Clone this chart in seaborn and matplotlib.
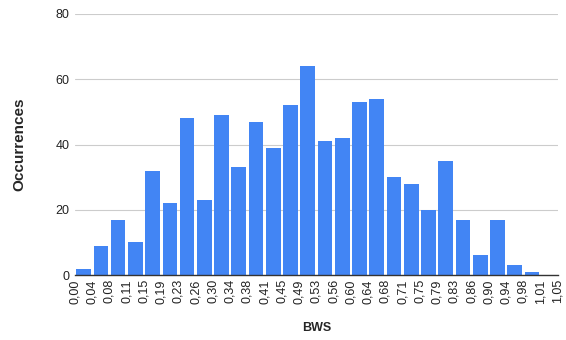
import numpy as np
import pandas as pd
import matplotlib
matplotlib.use("Agg")
import matplotlib.pyplot as plt
import seaborn as sns

# histogram counts per bin (28 bins from 0.00 to 1.05)
counts = [2, 9, 17, 10, 32, 22, 48, 23, 49, 33, 47, 39, 52, 64,
          41, 42, 53, 54, 30, 28, 20, 35, 17, 6, 17, 3, 1, 0]
bws_min = 0.0
bws_max = 1.05
tick_labels = ["0,00", "0,04", "0,08", "0,11", "0,15", "0,19", "0,23", "0,26",
               "0,30", "0,34", "0,38", "0,41", "0,45", "0,49", "0,53", "0,56",
               "0,60", "0,64", "0,68", "0,71", "0,75", "0,79", "0,83", "0,86",
               "0,90", "0,94", "0,98", "1,01", "1,05"]
y_ticks = [0, 20, 40, 60, 80]

edges = np.linspace(bws_min, bws_max, len(counts) + 1)
centers = (edges[:-1] + edges[1:]) / 2
df = pd.DataFrame({"BWS": centers, "n": counts})

sns.set_style("white")
plt.rcParams["font.family"] = ["Liberation Sans", "DejaVu Sans"]

fig = plt.figure(figsize=(5.66, 3.40), dpi=100)
ax = fig.add_axes([0.1325, 0.191, 0.853, 0.768])

sns.histplot(data=df, x="BWS", weights="n", bins=list(edges), shrink=0.85,
             color="#4285F4", alpha=1, edgecolor="none", ax=ax, zorder=3)

ax.set_xlim(bws_min, bws_max)
ax.set_ylim(0, 80)
ax.set_yticks(y_ticks)
ax.set_xticks(edges)
ax.set_xticklabels(tick_labels, rotation=90, fontsize=9, color="#222222")
ax.tick_params(axis="y", labelsize=9, labelcolor="#222222", length=0, pad=4)
ax.tick_params(axis="x", length=0, pad=3)
ax.yaxis.grid(True, color="#cccccc", linewidth=0.8, zorder=0)
ax.xaxis.grid(False)
for s in ["left", "right", "top"]:
    ax.spines[s].set_visible(False)
ax.spines["bottom"].set_color("#333333")
ax.spines["bottom"].set_linewidth(1.0)
ax.spines["bottom"].set_zorder(4)

ax.set_xlabel("BWS", fontsize=9, fontweight="bold", labelpad=13)
ax.set_ylabel("Occurrences", fontsize=11, fontweight="bold", labelpad=21)

fig.savefig("out.png", dpi=100)
